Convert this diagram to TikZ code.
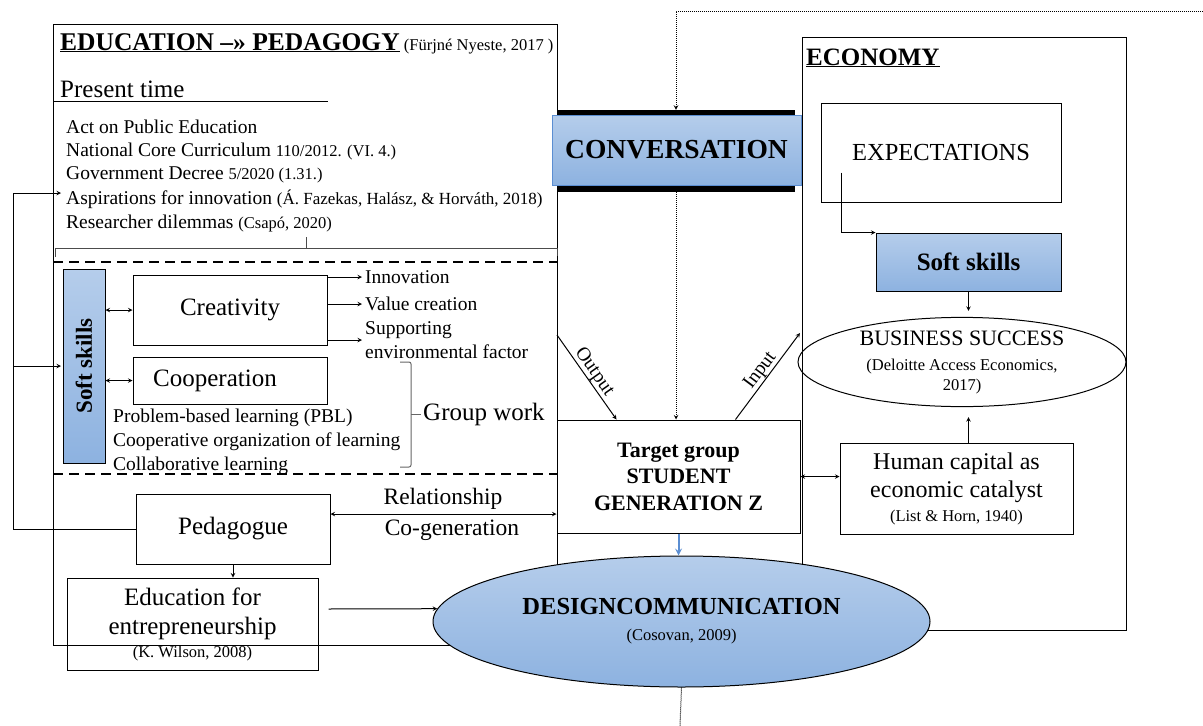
\documentclass[tikz,border=0pt]{standalone}
\usepackage{fontspec}
\setmainfont{Liberation Serif}
\usepackage{tikz}
\usetikzlibrary{shapes.geometric, arrows}
\usetikzlibrary{positioning}
\definecolor{paleblue}{HTML}{B5CDEB}
\definecolor{midblue}{HTML}{8DB2E0}
\definecolor{edgeblue}{HTML}{5B8ED2}
\newcommand{\bigtxt}{\fontsize{25}{29}\selectfont}
\newcommand{\midtxt}{\fontsize{19.5}{23.5}\selectfont}
\newcommand{\citetxt}{\fontsize{16.5}{20}\selectfont}
\tikzstyle{box} = [rectangle, draw=black, line width=1pt, inner sep=0pt, align=center]
\tikzstyle{bluebox} = [box, top color=paleblue, bottom color=midblue]
\tikzstyle{txt} = [anchor=base west, inner sep=0pt, align=left]
\tikzstyle{sidetext} = [anchor=west, inner sep=0pt, inner xsep=3pt, align=left, font=\midtxt]
\tikzstyle{arrow} = [line width=1pt,->,>=stealth]
\tikzstyle{twoway} = [line width=1pt,<->,>=stealth]
\tikzstyle{dots} = [densely dotted, line width=1pt]
\tikzstyle{split} = [line width=2.2pt, dash pattern=on 10pt off 6pt]

\begin{document}
\begin{tikzpicture}[x=1pt,y=-1pt]
\useasboundingbox (0,0) rectangle (1203,726);

% frames
\draw[line width=1pt] (53,24) rectangle (557,645);
\draw[line width=1pt] (802,37) rectangle (1126,630);

% education side
\node[txt] (edutitle) at (60,50) {\fontsize{25.5}{29}\selectfont\underline{\textbf{EDUCATION –» PEDAGOGY}}\,{\citetxt(Fürjné Nyeste, 2017 )}};
\node[txt] (present) at (60,97) {\bigtxt Present time};
\draw[line width=1pt] (53,101) -- (328,101);
\node[txt] (act) at (66,133) {\midtxt Act on Public Education};
\node[txt] (core) at (66,156) {\midtxt National Core Curriculum {\citetxt 110/2012. (VI. 4.)}};
\node[txt] (decree) at (66,179) {\midtxt Government Decree {\citetxt 5/2020 (1.31.)}};
\node[txt] (aspire) at (66,204) {\midtxt Aspirations for innovation {\fontsize{17}{21}\selectfont(Á. Fazekas, Halász, \& Horváth, 2018)}};
\node[txt] (dilemma) at (66,228) {\midtxt Researcher dilemmas {\citetxt (Csapó, 2020)}};
\draw[line width=1pt, black!70] (55,257) -- (55,248) -- (557,248) -- (557,256);
\draw[line width=1pt, black!70] (306,248) -- (306,237);

% soft skills block
\draw[split] (53,262) -- (557,262);
\draw[split] (53,474) -- (557,474);
\node[bluebox, rotate=90, minimum width=194pt, minimum height=42pt, font=\fontsize{23}{27}\selectfont\bfseries] (softedu) at (84,366) {Soft skills};
\node[box, minimum width=194pt, minimum height=70pt, font=\bigtxt] (creativity) at (230,310) {Creativity};
\node[box, minimum width=194pt, minimum height=47pt, font=\bigtxt] (cooperation) at (230,380.5) {Cooperation\hspace*{30pt}};
\draw[twoway] (softedu.south |- creativity.west) -- (creativity.west);
\draw[twoway] (softedu.south |- cooperation.west) -- (cooperation.west);

\node[sidetext] (innov) at (362,277) {Innovation};
\node[sidetext] (value) at (362,304) {Value creation};
\node[sidetext] (support) at (362,340) {Supporting\\environmental factor};
\draw[arrow] (creativity.east |- innov.west) -- (innov.west);
\draw[arrow] (creativity.east |- value.west) -- (value.west);
\draw[arrow] (creativity.east |- support.west) -- (support.west);

\node[txt] (pbl) at (113,422) {\midtxt Problem-based learning (PBL)};
\node[txt] (coorg) at (113,446) {\midtxt Cooperative organization of learning};
\node[txt] (collab) at (113,470) {\midtxt Collaborative learning};
\draw[line width=1pt, black!60, rounded corners=2pt] (400,362) -- (411,362) -- (411,467) -- (400,467);
\draw[line width=1pt, black!60] (411,414) -- (421,414);
\node[sidetext, font=\fontsize{25}{29}\selectfont] (groupwork) at (420,414) {Group work};

% pedagogue
\node[box, minimum width=194pt, minimum height=70pt, font=\bigtxt] (pedagogue) at (233,529) {Pedagogue};
\node[box, minimum width=251pt, minimum height=92pt, font=\bigtxt] (entre) at (192.5,624) {Education for\\entrepreneurship\\[-6pt]{\citetxt (K. Wilson, 2008)}};
\draw[arrow] (pedagogue.south) -- (pedagogue.south |- entre.north);

\coordinate (loopleft) at (13,529);
\coordinate (aspirein) at (61,193);
\coordinate (softin) at (61,366);
\draw[arrow] (pedagogue.west) -- (loopleft) |- (aspirein);
\draw[arrow] (loopleft |- softin) -- (softin);

% middle column
\node[rectangle, fill=black, minimum width=238pt, minimum height=82pt, inner sep=0pt] (convbar) at (676,151) {};
\node[bluebox, draw=edgeblue, minimum width=249pt, minimum height=70pt, font=\fontsize{27.5}{32}\selectfont\bfseries] (conversation) at (676.5,150) {CONVERSATION};
\node[box, minimum width=243pt, minimum height=113pt, font=\fontsize{22}{26.5}\selectfont\bfseries] (student) at (678.5,476.5) {Target group\\STUDENT\\GENERATION Z};

\coordinate (looptop) at (1203,11);
\draw[dots, arrow] (looptop) -- (convbar.north |- looptop) -- (convbar.north);
\draw[dots, arrow] (convbar.south) -- (convbar.south |- student.north);

\coordinate (outstart) at (557,335);
\coordinate (inend) at (800,333);
\draw[arrow] (outstart) -- node[sloped, above, font=\midtxt, inner sep=0pt] (outlabel) {Output} ([xshift=60pt]student.north west);
\draw[arrow] ([xshift=-65pt]student.north east) -- node[sloped, above, font=\midtxt, inner sep=0pt] (inlabel) {Input} (inend);

\coordinate (relline) at (443,514);
\node[font=\fontsize{23.5}{28}\selectfont, inner sep=0pt] (relation) at (443,499) {Relationship};
\node[font=\fontsize{23.5}{28}\selectfont, inner sep=0pt] (cogen) at (452,530) {Co-generation};
\draw[twoway] (pedagogue.east |- relline) -- (student.west |- relline);

% economy side
\node[txt] (ecotitle) at (806,65) {\fontsize{25}{29}\selectfont\underline{\textbf{ECONOMY}}};
\node[box, minimum width=240pt, minimum height=99pt, font=\fontsize{24.5}{29}\selectfont] (expect) at (941,152.5) {EXPECTATIONS};
\node[bluebox, minimum width=185pt, minimum height=58pt, font=\fontsize{25}{29}\selectfont\bfseries] (softeco) at (968.5,262) {Soft skills};
\node[ellipse, draw=black, line width=1pt, minimum width=328pt, minimum height=80pt, inner sep=0pt, align=center, font=\fontsize{22}{25}\selectfont] (success) at (962,362) {BUSINESS SUCCESS\\{\citetxt (Deloitte Access Economics,}\\[-5pt]{\citetxt 2017)}};
\node[box, minimum width=233pt, minimum height=91pt, font=\fontsize{24}{28}\selectfont] (human) at (956.5,488.5) {Human capital as\\economic catalyst\\[-4pt]{\citetxt (List \& Horn, 1940)}};

\draw[arrow] ([xshift=21pt,yshift=-20pt]expect.west) |- (softeco.north west);
\draw[arrow, shorten >=6pt] (softeco.south) -- (softeco.south |- success.north);
\draw[arrow, shorten >=10pt] (softeco.south |- human.north) -- (softeco.south |- success.south);
\draw[twoway] (student.east) -- (student.east -| human.west);

% design communication
\node[ellipse, draw=black, line width=1pt, top color=paleblue, bottom color=midblue, minimum width=497pt, minimum height=131pt, inner sep=0pt, align=center, font=\fontsize{24.5}{28}\selectfont\bfseries] (design) at (681.5,621.5) {DESIGNCOMMUNICATION\\[-2pt]{\citetxt\mdseries (Cosovan, 2009)}};
\draw[arrow, edgeblue, line width=2pt] (student.south) -- (student.south |- design.north);
\draw[arrow] ([xshift=10pt,yshift=15pt]entre.east) -- (design.177);
\coordinate (loopbottom) at (680,726);
\draw[dots] (design.south) -- (loopbottom);

\end{tikzpicture}
\end{document}
